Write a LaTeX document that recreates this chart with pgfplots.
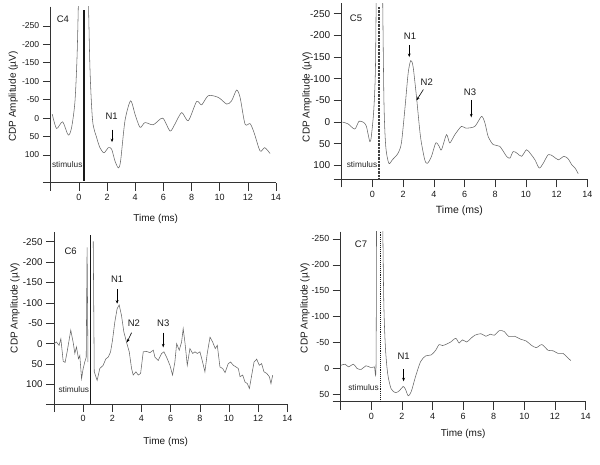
\documentclass[border=0pt]{standalone}
\usepackage{fontspec}
\setmainfont{Liberation Sans}
\usepackage{pgfplots}
\pgfplotsset{compat=1.18}
\usetikzlibrary{arrows.meta}

\tikzset{
  lab/.style={font=\fontsize{9.5}{11}\selectfont, text=black!90},
  stim/.style={font=\fontsize{8.3}{9}\selectfont, text=black!85},
  arr/.style={black, line width=0.6pt, -{Stealth[length=3.5pt,width=2.8pt]}},
}
\pgfplotsset{
  panel/.style={
    scale only axis,
    axis x line*=bottom, axis y line*=left,
    y dir=reverse,
    xmin=-2, xmax=14,
    xtick={-2,0,2,4,6,8,10,12,14},
    xticklabels={,0,2,4,6,8,10,12,14},
    tick align=outside,
    major tick length=8pt,
    axis line style={black!80, line width=0.6pt},
    tick style={black!80, line width=0.6pt},
    ticklabel style={font=\fontsize{9}{10}\selectfont, text=black!90},
    label style={font=\fontsize{10}{12}\selectfont, text=black!90},
    xlabel={Time (ms)}, ylabel={CDP Amplitude (µV)},
    /pgf/number format/assume math mode=true,
    clip=true,
  },
  trace/.style={black!60, line width=0.55pt, no marks},
  smtrace/.style={trace, smooth, tension=0.45},
}

\begin{document}
\begin{tikzpicture}
\path[use as bounding box] (0,0) rectangle (600pt,464pt);

% ---------------- C4 ----------------
\begin{axis}[panel,
  at={(50.8pt,281.3pt)}, anchor=south west,
  width=225.2pt, height=176pt,
  ymin=-302, ymax=175,
  ytick={-250,-200,-150,-100,-50,0,50,100,175},
  yticklabels={-250,-200,-150,-100,-50,0,50,100,{}},
  yticklabel style={font=\fontsize{8.6}{10}\selectfont},
  ylabel style={at={(axis description cs:-0.1665,0.489)}, anchor=center},
  xlabel style={at={(axis description cs:0.466,-0.208)}, anchor=center},
]
\addplot[smtrace] coordinates {
(-1.9,-11) (-1.59,28) (-1.16,10) (-0.76,46) (-0.52,25) (-0.28,-47) (-0.12,-184) (0.02,-420)};
\addplot[smtrace] coordinates {
(0.62,-420) (0.78,-138) (0.97,7) (1.26,53) (1.49,80) (1.78,94) (2.09,80) (2.32,84)
(2.56,116) (2.80,135) (2.96,116) (3.27,7) (3.67,-47) (3.98,-11) (4.34,25) (4.69,12)
(5.28,18) (5.95,0) (6.47,35) (6.82,16) (7.30,-15) (7.77,7) (8.36,-45) (8.72,-36)
(9.19,-61) (9.91,-56) (10.5,-38) (10.85,-47) (11.2,-76) (11.45,-56) (11.8,16)
(12.16,15) (12.44,39) (12.87,89) (13.2,80) (13.58,96)};
\addplot[black!90, line width=1.2pt, no marks] coordinates {(0.36,-293) (0.36,171)};
\node[lab] at (axis cs:-1.14,-269) {C4};
\node[lab] at (axis cs:2.32,-6) {N1};
\draw[arr] (axis cs:2.35,31) -- (axis cs:2.35,65);
\node[stim, anchor=east, inner sep=0.5pt] at (axis cs:0.3,126) {stimulus};
\end{axis}

% ---------------- C5 ----------------
\begin{axis}[panel,
  at={(341.7pt,284.7pt)}, anchor=south west,
  width=245.6pt, height=176pt,
  ymin=-274, ymax=132,
  ytick={-250,-200,-150,-100,-50,0,50,100,132},
  yticklabels={-250,-200,-150,-100,-50,0,50,100,{}},
  yticklabel style={font=\fontsize{10}{11}\selectfont},
  ylabel style={at={(axis description cs:-0.141,0.468)}, anchor=center},
  xlabel style={at={(axis description cs:0.479,-0.178)}, anchor=center, font=\fontsize{10.5}{12}\selectfont},
]
\addplot[smtrace] coordinates {
(-1.96,0) (-1.59,4) (-1.15,16) (-0.87,-2) (-0.57,1) (-0.39,10) (-0.17,45) (-0.07,33)
(0.09,-28) (0.2,-128) (0.27,-380)};
\addplot[smtrace] coordinates {
(0.64,-380) (0.75,-52) (0.87,56) (1.07,95) (1.30,87) (1.67,72) (1.89,48) (2.11,-28)
(2.33,-113) (2.5,-142) (2.65,-128) (2.87,-59) (3.13,33) (3.41,87) (3.59,95) (3.85,79)
(4.13,48) (4.35,56) (4.5,64) (4.83,29) (5.04,48) (5.37,29) (5.8,10) (6.09,14) (6.67,10)
(7.11,-13) (7.33,2) (7.54,33) (7.87,52) (8.3,56) (8.74,79) (8.96,83) (9.17,68) (9.43,72)
(9.72,79) (10.04,64) (10.3,73) (10.59,87) (10.87,106) (11.13,95) (11.46,75) (11.78,79)
(12.11,87) (12.48,79) (12.76,85) (12.98,98) (13.2,106) (13.41,119)};
\addplot[black!75, line width=1.5pt, dash pattern=on 0.8pt off 0.6pt, no marks] coordinates {(0.42,-266) (0.42,132)};
\node[lab] at (axis cs:-1.07,-239) {C5};
\node[lab] at (axis cs:2.45,-198) {N1};
\draw[arr] (axis cs:2.4,-178) -- (axis cs:2.4,-150);
\node[lab] at (axis cs:3.54,-91) {N2};
\draw[arr] (axis cs:3.32,-75) -- (axis cs:2.87,-50);
\node[lab] at (axis cs:6.36,-68) {N3};
\draw[arr] (axis cs:6.44,-51) -- (axis cs:6.44,-11);
\node[stim, anchor=east, inner sep=0.5pt] at (axis cs:0.36,97) {stimulus};
\end{axis}

% ---------------- C6 ----------------
\begin{axis}[panel,
  at={(54pt,60pt)}, anchor=south west,
  width=233.3pt, height=172pt,
  ymin=-274, ymax=148,
  ytick={-250,-200,-150,-100,-50,0,50,100,148},
  yticklabels={-250,-200,-150,-100,-50,0,50,100,{}},
  yticklabel style={font=\fontsize{9.8}{11}\selectfont},
  ylabel style={at={(axis description cs:-0.167,0.558)}, anchor=center},
  xlabel style={at={(axis description cs:0.479,-0.219)}, anchor=center},
]
\addplot[trace] coordinates {
(-2.0,0) (-1.83,-4) (-1.65,4) (-1.53,-12) (-1.37,43) (-1.24,46) (-1.1,20) (-0.85,-33)
(-0.69,-4) (-0.57,24) (-0.46,8) (-0.32,37) (-0.23,29) (-0.11,86) (0,61) (0.11,45)
(0.21,33) (0.27,-236) (0.33,45)};
\addplot[trace] coordinates {
(0.69,-251) (0.76,69) (0.96,90) (1.14,61) (1.37,53) (1.56,37) (1.72,33) (1.88,20)
(2.01,-8) (2.17,-53) (2.33,-86) (2.47,-95) (2.63,-69) (2.79,-29) (2.97,-4) (3.16,20)
(3.32,61) (3.43,77) (3.62,69) (3.78,77) (3.94,73) (4.12,20) (4.35,19) (4.58,22)
(4.81,16) (4.92,33) (5.15,41) (5.38,24) (5.54,20) (5.72,33) (5.95,53) (6.13,77)
(6.29,45) (6.41,0) (6.59,16) (6.75,-4) (6.86,-37) (6.99,0) (7.14,53) (7.32,12)
(7.51,24) (7.67,20) (7.83,24) (8.01,20) (8.19,45) (8.35,69) (8.51,24) (8.7,-16)
(8.88,-4) (9.06,12) (9.2,4) (9.38,57) (9.57,61) (9.73,71) (9.95,49) (10.11,45)
(10.3,53) (10.48,57) (10.64,61) (10.76,81) (10.94,77) (11.1,94) (11.26,98) (11.4,110)
(11.56,77) (11.72,45) (11.9,38) (12.08,53) (12.24,49) (12.4,69) (12.59,73) (12.77,81)
(12.88,98) (13.0,77)};
\addplot[black!90, line width=1.2pt, no marks] coordinates {(0.51,-266) (0.51,148)};
\node[lab] at (axis cs:-0.86,-228) {C6};
\node[lab] at (axis cs:2.33,-158) {N1};
\draw[arr] (axis cs:2.33,-133) -- (axis cs:2.33,-98);
\node[lab] at (axis cs:3.48,-51) {N2};
\draw[arr] (axis cs:3.32,-27) -- (axis cs:3.0,-3);
\node[lab] at (axis cs:5.49,-51) {N3};
\draw[arr] (axis cs:5.49,-27) -- (axis cs:5.49,9);
\node[stim, anchor=east, inner sep=0.5pt] at (axis cs:0.45,112) {stimulus};
\end{axis}

% ---------------- C7 ----------------
\begin{axis}[panel,
  at={(340.7pt,62.3pt)}, anchor=south west,
  width=244.8pt, height=170pt,
  ymin=-264, ymax=64.4,
  ytick={-250,-200,-150,-100,-50,0,50,64.4},
  yticklabels={-250,-200,-150,-100,-50,0,50,{}},
  yticklabel style={font=\fontsize{8.8}{10}\selectfont},
  ylabel style={at={(axis description cs:-0.146,0.551)}, anchor=center},
  xlabel style={at={(axis description cs:0.5,-0.19)}, anchor=center},
]
\addplot[smtrace] coordinates {
(-1.99,-6) (-1.71,-8) (-1.49,-3) (-1.16,-8) (-0.94,0) (-0.66,2) (-0.35,-5) (-0.07,-2)
(0.20,-3) (0.31,-10) (0.35,-400)};
\addplot[smtrace] coordinates {
(0.70,-400) (0.81,-138) (0.92,-42) (1.07,10) (1.29,39) (1.58,47) (1.84,43) (2.08,35)
(2.23,40) (2.41,53) (2.61,45) (2.89,16) (3.22,-13) (3.55,-24) (3.92,-26) (4.21,-35)
(4.43,-46) (4.65,-44) (4.93,-47) (5.19,-51) (5.52,-58) (5.74,-49) (5.96,-55) (6.24,-51)
(6.51,-58) (6.77,-64) (7.16,-67) (7.49,-62) (7.78,-66) (8.04,-64) (8.37,-73) (8.7,-71)
(8.96,-62) (9.36,-62) (9.79,-56) (10.12,-53) (10.45,-45) (10.78,-40) (11.15,-46)
(11.55,-35) (11.88,-34) (12.2,-29) (12.53,-29) (12.82,-21) (13.04,-15)};
\addplot[black!90, line width=0.9pt, densely dotted, no marks] coordinates {(0.59,-264) (0.59,64.4)};
\node[lab] at (axis cs:-0.67,-240) {C7};
\node[lab] at (axis cs:2.11,-24) {N1};
\draw[arr] (axis cs:2.11,2) -- (axis cs:2.11,25);
\node[stim, anchor=east, inner sep=0.5pt] at (axis cs:0.53,36.5) {stimulus};
\end{axis}
\end{tikzpicture}
\end{document}
